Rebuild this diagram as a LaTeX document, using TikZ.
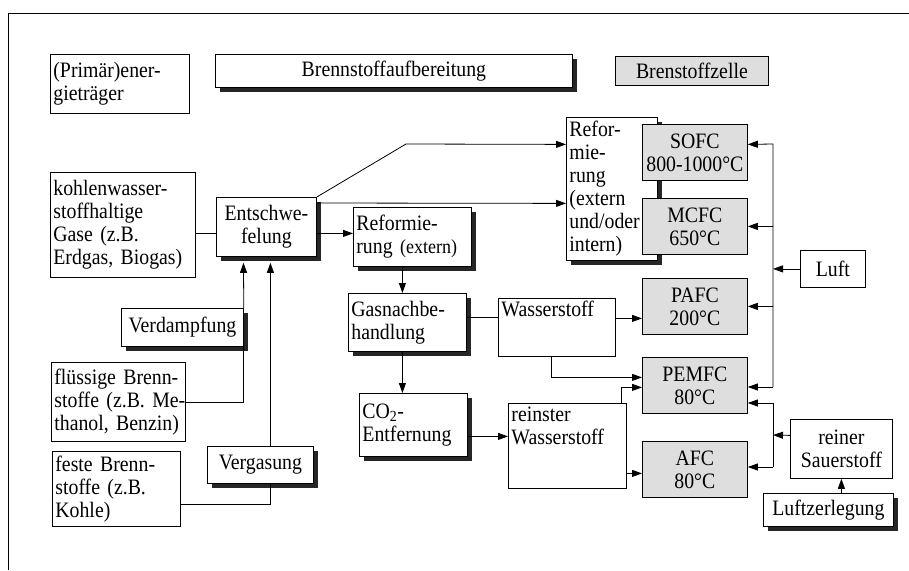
\documentclass[tikz,border=0pt]{standalone}
\usepackage{fontspec}
\setmainfont{Liberation Serif}[FakeStretch=0.9]
\usetikzlibrary{arrows.meta,shadows}

\tikzset{
	kasten/.style={draw, line width=0.8pt, fill=white, inner sep=3pt, anchor=north west},
	schatten/.style={kasten, drop shadow={shadow xshift=5pt, shadow yshift=-5pt, opacity=1, fill=black!85}},
	zelle/.style={kasten, fill=black!13, align=center, minimum width=105pt, minimum height=56pt},
	pfeil/.style={-{Triangle[length=10pt,width=7pt]}, line width=0.8pt},
	linie/.style={line width=0.8pt},
}

\begin{document}
\begin{tikzpicture}[x=1pt, y=-1pt, font=\fontsize{22}{23}\selectfont]
	\useasboundingbox (0,0) rectangle (909,570);
	\draw[linie] (909,13) -- (8,13) -- (8,570);

	% Kopfzeile
	\node[kasten, text width=133pt, minimum height=59pt, align=left] (prim) at (50,54) {(Primär)ener-\\gieträger};
	\node[schatten, minimum width=357pt, minimum height=33pt] (aufb) at (215,54) {Brennstoffaufbereitung};
	\node[kasten, fill=black!13, minimum width=153pt, minimum height=29pt] (bz) at (615,56) {Brenstoffzelle};

	% Energietraeger
	\node[kasten, text width=139pt, minimum height=105pt, align=left] (kohlen) at (50,172) {kohlenwasser-\\stoffhaltige\\Gase (z.B.\\\mbox{Erdgas, Biogas)}};
	\node[kasten, text width=128pt, minimum height=79pt, align=left] (fluess) at (51,362) {\mbox{flüssige Brenn-}\\\mbox{stoffe (z.B. Me-}\\\mbox{thanol, Benzin)}};
	\node[kasten, text width=122pt, minimum height=75pt, align=left] (feste) at (52,451) {feste Brenn-\\stoffe (z.B.\\Kohle)};

	% Aufbereitung
	\node[schatten, minimum width=122pt, minimum height=38pt] (verdampf) at (121,308) {Verdampfung};
	\node[schatten, minimum width=106pt, minimum height=37pt] (vergas) at (207,446) {Vergasung};
	\node[schatten, minimum width=100pt, minimum height=59pt, align=center] (entschw) at (216,197) {Entschwe-\\felung};
	\node[schatten, text width=112pt, minimum height=59pt, align=left] (refext) at (353,207) {Reformie-\\\mbox{rung {\fontsize{20}{23}\selectfont(extern)}}};
	\node[schatten, text width=112pt, minimum height=58pt, align=left] (gasnach) at (348,293) {Gasnachbe-\\handlung};
	\node[schatten, text width=102pt, minimum height=63pt, align=left] (co2) at (359,393) {CO\textsubscript{2}-\\Entfernung};
	\node[kasten, text width=111pt, text height=15pt, text depth=37pt, align=left] (wasser) at (498,298) {Wasserstoff};
	\node[kasten, text width=112pt, text height=15pt, text depth=64pt, align=left] (reinst) at (508,403) {reinster\\Wasserstoff};
	\node[schatten, text width=85pt, minimum height=143pt, align=left] (reform) at (566,117) {Refor-\\mie-\\rung\\(extern\\und/oder\\intern)};

	% Brennstoffzellen
	\node[zelle] (sofc) at (642,124) {SOFC\\800-1000°C};
	\node[zelle] (mcfc) at (642,198) {MCFC\\650°C};
	\node[zelle] (pafc) at (642,278) {PAFC\\200°C};
	\node[zelle] (pemfc) at (642,357) {PEMFC\\80°C};
	\node[zelle] (afc) at (642,441) {AFC\\80°C};

	% Oxidationsmittel
	\node[kasten, minimum width=65pt, minimum height=37pt] (luft) at (800,250) {Luft};
	\node[kasten, minimum width=102pt, minimum height=59pt, align=center] (sauer) at (790,419) {reiner\\Sauerstoff};
	\node[schatten, minimum width=130pt, minimum height=33pt] (luftzer) at (763,493) {Luftzerlegung};

	\coordinate (knick) at (406,144);
	\coordinate (luftoben) at (773,144);
	\coordinate (luftunten) at (773,387);
	\coordinate (o2oben) at (773,403);
	\coordinate (o2mitte) at (773,435);
	\coordinate (o2unten) at (773,467);

	\draw[linie] ([yshift=-8.5pt]kohlen.east) -- ([yshift=-6.5pt]entschw.west);
	\draw[linie] (fluess.east) -| (verdampf.south east);
	\draw[pfeil, shorten >=6pt] (verdampf.north east) -- ([xshift=-23pt]entschw.south);
	\draw[linie] ([yshift=-15.5pt]feste.east) -| ([xshift=10pt]vergas.south);
	\draw[pfeil, shorten >=6pt] ([xshift=10pt]vergas.north) -- ([xshift=4pt]entschw.south);

	\draw[pfeil] ([yshift=-6.5pt]entschw.east) -- ([yshift=3.5pt]refext.west);
	\draw[pfeil] (entschw.north east) -- (knick) -- ([yshift=44.5pt]reform.west);
	\draw[pfeil] ([yshift=-6pt]entschw.north east) -- ([yshift=-14.5pt]reform.west);
	\draw[pfeil] ([xshift=-10pt]refext.south) -- ([xshift=-5pt]gasnach.north);
	\draw[pfeil] ([xshift=-5pt]gasnach.south) -- ([xshift=-11pt]co2.north);
	\draw[linie] ([yshift=5pt]gasnach.east) -- ([yshift=10pt]wasser.west);
	\draw[pfeil] ([yshift=9pt]wasser.east) -- ([yshift=-12pt]pafc.west);
	\draw[pfeil] ([xshift=-5.5pt]wasser.south) |- ([yshift=8pt]pemfc.west);
	\draw[pfeil] ([yshift=-11.5pt]co2.east) -- ([yshift=9.5pt]reinst.west);
	\draw[pfeil] ([xshift=-5pt]reinst.north east) |- ([yshift=-2pt]pemfc.west);
	\draw[pfeil] ([yshift=-27.5pt]reinst.east) -- ([yshift=-4pt]afc.west);

	\draw[pfeil] (luftunten) -- (luftoben) -- ([yshift=8pt]sofc.east);
	\draw[pfeil] (mcfc.east -| luftoben) -- (mcfc.east);
	\draw[pfeil] (pafc.east -| luftoben) -- (pafc.east);
	\draw[pfeil] (luftunten) -- (luftunten -| pemfc.east);
	\draw[pfeil] (luft.west) -- (luft.west -| luftoben);

	\draw[pfeil] (o2unten) -- (o2oben) -- (o2oben -| pemfc.east);
	\draw[pfeil] (o2unten) -- (o2unten -| afc.east);
	\draw[pfeil] ([yshift=13.5pt]sauer.west) -- (o2mitte);
	\draw[pfeil] (luftzer.north -| sauer.south) -- (sauer.south);
\end{tikzpicture}
\end{document}
